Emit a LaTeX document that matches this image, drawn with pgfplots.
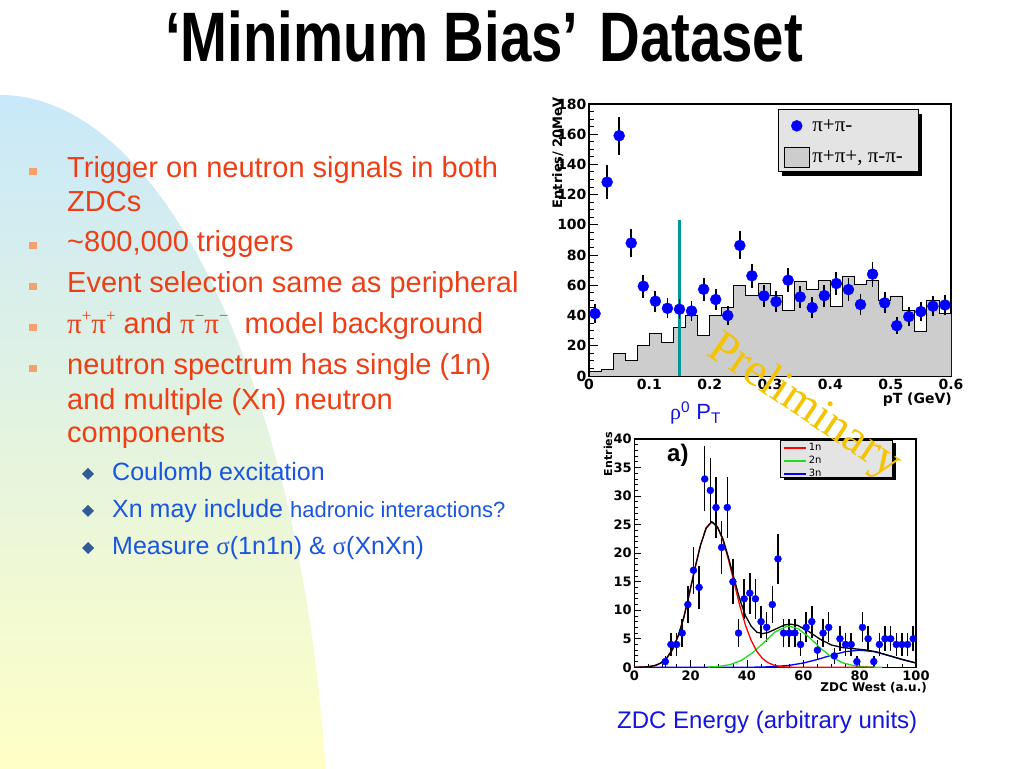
\documentclass[border=0pt]{standalone}
\usepackage{fontspec}
\setmainfont{Liberation Sans}
\newfontfamily\serif{Liberation Serif}
\newfontfamily\rootfont{DejaVu Sans}
\usepackage{pgfplots}
\usepackage{pgfplotstable}
\pgfplotsset{compat=1.18}
\definecolor{bgblue}{RGB}{200,232,250}
\definecolor{bgmid}{RGB}{226,243,226}
\definecolor{bgyellow}{RGB}{255,255,198}
\definecolor{txtred}{RGB}{238,62,22}
\definecolor{txtblue}{RGB}{25,85,225}
\definecolor{bulletor}{RGB}{246,160,110}
\definecolor{diamondc}{RGB}{50,90,150}
\definecolor{capblue}{RGB}{20,20,225}
\definecolor{histgray}{RGB}{205,205,205}
\definecolor{leggray}{RGB}{228,228,228}
\definecolor{tealline}{RGB}{0,150,150}
\definecolor{prelim}{RGB}{245,196,0}
\definecolor{fitgreen}{RGB}{30,220,30}
\newcommand{\sz}[1]{\fontsize{#1}{#1}\selectfont}
\newcommand{\pisup}[1]{{\serif π}\raisebox{0.42em}{\sz{17}\serif #1}}

\pgfplotstableread{
x y e
0.01 41.3 6.4
0.03 128.3 11.3
0.05 159 12.6
0.07 88 9.4
0.09 59.4 7.7
0.11 49.5 7.0
0.13 44.8 6.7
0.15 44.2 6.6
0.17 43 6.6
0.19 57.4 7.6
0.21 50.6 7.1
0.23 40 6.3
0.25 86.4 9.3
0.27 66.3 8.1
0.29 53 7.3
0.31 49.2 7.0
0.33 63.4 8.0
0.35 52.3 7.2
0.37 45.3 6.7
0.39 53.2 7.3
0.41 61.2 7.8
0.43 57.2 7.6
0.45 47.3 6.9
0.47 67.4 8.2
0.49 48.4 7.0
0.51 33.3 5.8
0.53 39.3 6.3
0.55 42.6 6.5
0.57 46.2 6.8
0.59 47 6.9
}\pipmdata

\pgfplotstableread{
x y
0 3
0.02 4.2
0.04 15.2
0.06 10.4
0.08 20.3
0.10 28
0.12 22.3
0.14 32.2
0.16 40
0.18 27
0.20 40
0.22 45.5
0.24 60
0.26 53.4
0.28 61
0.30 53.4
0.32 43.7
0.34 62.4
0.36 57
0.38 63
0.40 46.3
0.42 65.7
0.44 60.7
0.46 63
0.48 50.3
0.50 53
0.52 43.7
0.54 29.8
0.56 50.3
0.58 41.5
0.60 41.5
}\likesign

\pgfplotstableread{
x y e
11 1 1.0
13 4 2.0
15 4 2.0
17 6 2.45
19 11 3.3
21 17 4.1
23 14 3.7
25 33 5.7
27 31 5.6
29 28 5.3
31 21 4.6
33 28 5.3
35 15 3.9
37 6 2.45
39 12 3.5
41 13 3.6
43 12 3.5
45 8 2.8
47 7 2.65
49 11 3.3
51 19 4.4
53 6 2.45
55 6 2.45
57 6 2.45
59 4 2.0
61 7 2.65
63 8 2.8
65 3 1.7
67 6 2.45
69 7 2.65
71 2 1.4
73 5 2.2
75 4 2.0
77 4 2.0
79 1 1.0
81 7 2.65
83 5 2.2
85 1 1.0
87 4 2.0
89 5 2.2
91 5 2.2
93 4 2.0
95 4 2.0
97 4 2.0
99 5 2.2
}\zdcdata

\begin{document}
\begin{tikzpicture}[x=1pt,y=1pt]
\path[use as bounding box] (0,0) rectangle (1024,768);
% background shape
\begin{scope}
\clip (0,-132) ellipse [x radius=330, y radius=805];
\shade[top color=bgblue, middle color=bgmid, bottom color=bgyellow] (0,0) rectangle (340,680);
\end{scope}

% title
\node[anchor=base west, inner sep=0, font=\sz{70}\bfseries] at (165,706) {\scalebox{0.805}[1]{‘Minimum Bias’\hspace{26pt}Dataset}};

% bullets
\foreach \yy in {178,252,293,334,375} {
  \fill[bulletor] (29,768-\yy+2.5) rectangle ++(7.5,7.5);
}
\foreach \yy in {481,518,555} {
  \fill[diamondc] (82,768-\yy+7) -- (88,768-\yy+13) -- (94,768-\yy+7) -- (88,768-\yy+1) -- cycle;
}
\begin{scope}[every node/.style={anchor=base west, inner sep=0}]
\node[text=txtred, font=\sz{29}] at (67,590) {Trigger on neutron signals in both};
\node[text=txtred, font=\sz{29}] at (67,556) {ZDCs};
\node[text=txtred, font=\sz{29}] at (67,516) {\textasciitilde 800,000 triggers};
\node[text=txtred, font=\sz{29}] at (67,475) {Event selection same as peripheral};
\node[text=txtred, font=\sz{29}] at (67,434) {\pisup{+}\pisup{+} and \pisup{−}\pisup{−}\ \ model background};
\node[text=txtred, font=\sz{29}] at (67,393) {neutron spectrum has single (1n)};
\node[text=txtred, font=\sz{29}] at (67,358) {and multiple (Xn) neutron};
\node[text=txtred, font=\sz{29}] at (67,325) {components};
\node[text=txtblue, font=\sz{25}] at (112,287) {Coulomb excitation};
\node[text=txtblue, font=\sz{25}] at (112,250) {Xn may include {\sz{22}hadronic interactions?}};
\node[text=txtblue, font=\sz{25}] at (112,213) {Measure {\serif σ}(1n1n) \& {\serif σ}(XnXn)};
\end{scope}

% legend boxes with shadows (ROOT style)
\fill[black] (782,654) rectangle (922,592);
\filldraw[fill=leggray, draw=black, line width=1pt] (778,658) rectangle (918,596);
\fill[black] (783.5,325) rectangle (895.5,288);
\filldraw[fill=leggray, draw=black, line width=0.8pt] (780,328) rectangle (892,291);

% top plot
\begin{axis}[
  at={(589pt,392pt)}, anchor=south west, scale only axis,
  width=362pt, height=272pt,
  xmin=0, xmax=0.6, ymin=0, ymax=180,
  axis line style={line width=1.6pt},
  xtick={0,0.1,0.2,0.3,0.4,0.5,0.6},
  xticklabels={0,0.1,0.2,0.3,0.4,0.5,0.6},
  ytick={0,20,...,180},
  minor x tick num=4, minor y tick num=3,
  tick pos=left, tick align=inside,
  major tick length=9pt, minor tick length=4.5pt,
  tick style={black, line width=1pt},
  tick label style={font=\rootfont\bfseries\sz{14}},
  /pgf/number format/assume math mode=true,
  yticklabel style={xshift=1pt},
  legend cell align=left,
  legend style={at={(0.522,0.978)}, anchor=north west, fill=none, draw=none,
    font=\serif\sz{21}, inner xsep=6pt, inner ysep=7pt, row sep=12pt},
]
\addlegendimage{legend image code/.code={\fill[blue] (12pt,0pt) circle (5.5pt);}}
\addlegendentry{π+π-}
\addlegendimage{legend image code/.code={\draw[fill=histgray, draw=black, line width=1.2pt] (0pt,-10pt) rectangle (25pt,10pt);}}
\addlegendentry{π+π+, π-π-}
\addplot[const plot, fill=histgray, draw=black, line width=0.8pt, forget plot] table[x=x,y=y] {\likesign} \closedcycle;
\addplot[tealline, line width=2.5pt, forget plot] coordinates {(0.15,0) (0.15,103.5)};
\addplot[forget plot, only marks, mark=*, mark size=5.5pt, blue, mark options={draw=blue, fill=blue},
  error bars/.cd, y dir=both, y explicit, error mark=none,
  error bar style={black, line width=1.8pt}]
  table[x=x, y=y, y error=e] {\pipmdata};
\end{axis}

% bottom plot
\begin{axis}[
  at={(634.3pt,100.7pt)}, anchor=south west, scale only axis,
  width=281.7pt, height=228.3pt,
  xmin=0, xmax=100, ymin=0, ymax=40,
  axis line style={line width=1.2pt},
  xtick={0,20,...,100}, ytick={0,5,...,40},
  minor x tick num=3, minor y tick num=4,
  tick pos=left, tick align=inside,
  major tick length=7pt, minor tick length=3.5pt,
  tick style={black, line width=0.8pt},
  tick label style={font=\rootfont\bfseries\sz{13}},
  /pgf/number format/assume math mode=true,
  yticklabel style={xshift=1pt},
  legend cell align=left,
  legend style={at={(0.521,0.9956)}, anchor=north west, fill=none, draw=none,
    font=\rootfont\sz{10}, inner xsep=2pt, inner ysep=1.5pt, row sep=0pt},
]
\addlegendimage{legend image code/.code={\draw[red, line width=1.5pt] (0pt,0pt) -- (22pt,0pt);}}
\addlegendentry{\makebox[72pt][l]{1n}}
\addlegendimage{legend image code/.code={\draw[fitgreen, line width=1.5pt] (0pt,0pt) -- (22pt,0pt);}}
\addlegendentry{\makebox[72pt][l]{2n}}
\addlegendimage{legend image code/.code={\draw[blue, line width=1.5pt] (0pt,0pt) -- (22pt,0pt);}}
\addlegendentry{\makebox[72pt][l]{3n}}
\addplot[forget plot, only marks, mark=*, mark size=3.5pt, blue, mark options={draw=blue, fill=blue},
  error bars/.cd, y dir=both, y explicit, error mark=none,
  error bar style={black, line width=1.5pt}]
  table[x=x, y=y, y error=e] {\zdcdata};
\addplot[blue, line width=1.3pt, forget plot] coordinates {(0,0) (40,0.01) (45,0.04) (50,0.13) (55,0.34) (60,0.75) (65,1.37) (70,2.12) (75,2.75) (80,3) (85,2.75) (90,2.12) (95,1.37) (100,0.75)};
\addplot[fitgreen, line width=1.3pt, forget plot] coordinates {(26,0.05) (30,0.15) (34,0.47) (38,1.2) (42,2.55) (46,4.35) (50,6.2) (54,7.15) (55,7.2) (58,6.8) (62,5.3) (66,3.4) (70,1.8) (74,0.78) (78,0.28) (82,0.08) (86,0.02) (88,0)};
\addplot[red, line width=1.3pt, forget plot] coordinates {(0,0) (1.5,0.02) (3.5,0.05) (5.5,0.14) (7.5,0.34) (9.5,0.77) (11.5,1.6) (13.5,3.07) (15.5,5.4) (17.5,8.6) (19.5,12.8) (21.5,17.3) (23.5,21.4) (25.5,24.4) (27.5,25.5) (29.5,24.6) (31.5,22.2) (33.5,18.7) (35.5,14.7) (37.5,10.7) (39.5,7.3) (41.5,4.7) (43.5,2.78) (45.5,1.54) (47.5,0.8) (49.5,0.39) (51.5,0.17) (53.5,0.07) (55.5,0.03) (58,0) (85,0)};
\addplot[black, line width=1.3pt, forget plot] coordinates {(0,0) (1.5,0.02) (3.5,0.05) (5.5,0.14) (7.5,0.34) (9.5,0.77) (11.5,1.6) (13.5,3.07) (15.5,5.4) (17.5,8.6) (19.5,12.8) (21.5,17.3) (23.5,21.4) (25.5,24.4) (27.5,25.5) (29.5,24.6) (31.5,22.45) (33.5,19.1) (35.5,15.4) (37.5,11.8) (39.5,9.0) (41.5,7.2) (43.5,6.15) (45.5,5.9) (47.5,6.1) (49.5,6.55) (51.5,7.0) (53.5,7.45) (55.5,7.55) (58,7.35) (62,6.25) (66,4.9) (70,3.9) (74,3.45) (78,3.25) (82,3.05) (86,2.7) (90,2.1) (95,1.4) (100,0.75)};
\end{axis}

% axis titles and captions
\node[rotate=90, anchor=base east, inner sep=0, font=\rootfont\bfseries\sz{13}] at (562,671) {Entries/ 20MeV};
\node[anchor=base east, inner sep=0, font=\rootfont\bfseries\sz{14}] at (952,364) {pT (GeV)};
\node[rotate=90, anchor=base east, inner sep=0, font=\rootfont\bfseries\sz{11}] at (612,336) {Entries};
\node[anchor=base east, inner sep=0, font=\rootfont\bfseries\sz{12}] at (927,77) {ZDC West (a.u.)};
\node[anchor=base west, inner sep=0, font=\bfseries\sz{24}] at (667,306) {a)};
\node[anchor=base west, inner sep=0, text=capblue, font=\sz{22}] at (670,348) {{\serif ρ}\textsuperscript{0} P\textsubscript{T}};
\node[anchor=base west, inner sep=0, text=capblue, font=\sz{24}] at (617,40) {ZDC Energy (arbitrary units)};
\node[rotate=-34, inner sep=0, text=prelim, font=\serif\sz{47}] at (804,361) {Preliminary};
\end{tikzpicture}
\end{document}
